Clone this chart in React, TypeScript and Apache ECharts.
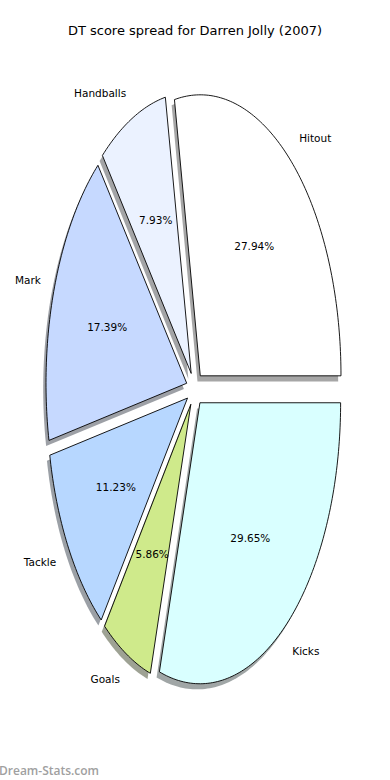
import React, { useEffect, useRef } from "react";
import * as echarts from "echarts";

const titleText = "DT score spread for Darren Jolly (2007)";
const categories = ["Hitout", "Handballs", "Mark", "Tackle", "Goals", "Kicks"];
const shares = [27.94, 7.93, 17.39, 11.23, 5.86, 29.65];
const sliceColors = ["#ffffff", "#ebf2ff", "#c6d9ff", "#b7d7ff", "#cfea8b", "#d9ffff"];
const watermark = "Dream-Stats.com";

// layout
const CX = 194.8;
const CY = 389;
const RX = 140.7;
const RY = 281;
const EXPLODE = 0.061;
const LABEL_D = 1.1;
const PCT_D = 0.6;
const SHADOW_OFF = 0.02;
const FONT = "DejaVu Sans";

const total = shares.reduce((a, b) => a + b, 0);

function geom(idx: number, value: number) {
  let start = 0;
  for (let i = 0; i < idx; i++) start += shares[i];
  const t1 = (start / total) * Math.PI * 2;
  const t2 = ((start + value) / total) * Math.PI * 2;
  const mid = (t1 + t2) / 2;
  const ox = EXPLODE * Math.cos(mid);
  const oy = EXPLODE * Math.sin(mid);
  const toPx = (u: number, v: number): [number, number] => [CX + RX * u, CY - RY * v];
  const pts: [number, number][] = [toPx(ox, oy)];
  const n = Math.max(8, Math.ceil(((t2 - t1) / (Math.PI * 2)) * 360));
  for (let k = 0; k <= n; k++) {
    const t = t1 + ((t2 - t1) * k) / n;
    pts.push(toPx(ox + Math.cos(t), oy + Math.sin(t)));
  }
  return { t1, t2, mid, ox, oy, pts, toPx };
}

function shadowColor(hex: string) {
  const r = parseInt(hex.slice(1, 3), 16) * 0.3;
  const g = parseInt(hex.slice(3, 5), 16) * 0.3;
  const b = parseInt(hex.slice(5, 7), 16) * 0.3;
  return `rgb(${Math.round(r)},${Math.round(g)},${Math.round(b)})`;
}

export default function App() {
  const ref = useRef<HTMLDivElement>(null);
  useEffect(() => {
    document.body.style.margin = "0";
    if (!ref.current) return;
    const chart = echarts.init(ref.current, undefined, { renderer: "svg" });
    const data = shares.map((v, i) => ({ value: [v], name: categories[i] }));
    chart.setOption({
      animation: false,
      backgroundColor: "#ffffff",
      graphic: [
        {
          type: "text",
          x: 195,
          y: 30,
          style: {
            text: titleText,
            fontFamily: FONT,
            fontSize: 13,
            fill: "#000",
            align: "center",
            verticalAlign: "middle",
          },
        },
        {
          type: "text",
          x: -1,
          y: 770,
          style: {
            text: watermark,
            fontFamily: "Open Sans",
            fontSize: 12,
            fontWeight: 600,
            fill: "#a0a0a0",
            align: "left",
            verticalAlign: "middle",
          },
        },
      ],
      series: [
        {
          type: "custom",
          coordinateSystem: "none",
          z: 1,
          data,
          renderItem: (params: any, api: any) => {
            const idx = params.dataIndex;
            const g = geom(idx, api.value(0));
            const dx = -SHADOW_OFF * RX;
            const dy = SHADOW_OFF * RY;
            return {
              type: "polygon",
              shape: { points: g.pts.map(([x, y]) => [x + dx, y + dy]) },
              style: { fill: shadowColor(sliceColors[idx]), opacity: 0.5 },
            };
          },
        },
        {
          type: "custom",
          coordinateSystem: "none",
          z: 2,
          data,
          renderItem: (params: any, api: any) => {
            const idx = params.dataIndex;
            const value = api.value(0);
            const g = geom(idx, value);
            const c = Math.cos(g.mid);
            const s = Math.sin(g.mid);
            const [lx, ly] = g.toPx(g.ox + LABEL_D * c, g.oy + LABEL_D * s);
            const [px, py] = g.toPx(g.ox + PCT_D * c, g.oy + PCT_D * s);
            return {
              type: "group",
              children: [
                {
                  type: "polygon",
                  shape: { points: g.pts },
                  style: { fill: sliceColors[idx], stroke: "#000", lineWidth: 0.9, lineJoin: "miter" },
                },
                {
                  type: "text",
                  x: lx,
                  y: ly,
                  style: {
                    text: categories[idx],
                    fontFamily: FONT,
                    fontSize: 10.5,
                    fill: "#000",
                    align: c > 0 ? "left" : "right",
                    verticalAlign: "middle",
                  },
                },
                {
                  type: "text",
                  x: px,
                  y: py,
                  style: {
                    text: ((value / total) * 100).toFixed(2) + "%",
                    fontFamily: FONT,
                    fontSize: 10.5,
                    fill: "#000",
                    align: "center",
                    verticalAlign: "middle",
                  },
                },
              ],
            };
          },
        },
      ],
    });
    return () => chart.dispose();
  }, []);
  return <div ref={ref} style={{ width: 390, height: 780 }} />;
}
